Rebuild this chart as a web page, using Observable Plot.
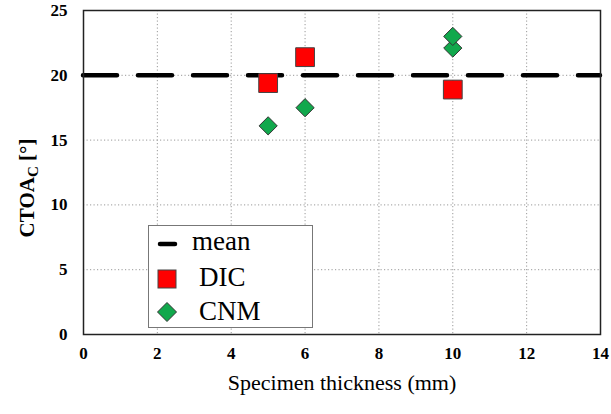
<!DOCTYPE html>
<html><head><meta charset="utf-8">
<script src="https://cdn.jsdelivr.net/npm/d3@7"></script>
<script src="https://cdn.jsdelivr.net/npm/@observablehq/plot@0.6"></script>
<style>
html,body{margin:0;padding:0;background:#fff;}
#wrap{position:relative;width:611px;height:414px;}
#legend{position:absolute;left:148px;top:225px;}
#wrap svg text{font-family:"Liberation Serif",serif !important;}
</style></head><body><div id="wrap"></div>
<script>
const thicknessDIC = [5, 6, 10];
const ctoaDIC = [19.4, 21.4, 18.9];
const thicknessCNM = [5, 6, 10, 10];
const ctoaCNM = [16.1, 17.5, 22.1, 23.0];
const meanValue = 20;
const xTicks = [0, 2, 4, 6, 8, 10, 12, 14];
const yTicks = [0, 5, 10, 15, 20, 25];
const legendLabels = ["mean", "DIC", "CNM"];

const dic = thicknessDIC.map((x, i) => ({x, y: ctoaDIC[i]}));
const cnm = thicknessCNM.map((x, i) => ({x, y: ctoaCNM[i]}));

const serif = "Liberation Serif";
const green = "#11a84c";
const red = "#ff0000";

const chart = Plot.plot({
  width: 611,
  height: 414,
  marginLeft: 83,
  marginRight: 11,
  marginTop: 10,
  marginBottom: 80,
  style: {fontFamily: serif, background: "#fff", color: "#000"},
  x: {domain: [0, 14], ticks: xTicks},
  y: {domain: [0, 25], ticks: yTicks},
  marks: [
    Plot.gridX(xTicks.slice(1, -1), {stroke: "#999", strokeOpacity: 1, strokeDasharray: "1.2,2.3", strokeWidth: 1}),
    Plot.gridY(yTicks.slice(1, -1), {stroke: "#999", strokeOpacity: 1, strokeDasharray: "1.2,2.3", strokeWidth: 1}),
    Plot.axisX({ticks: xTicks, tickSize: 0, tickPadding: 12, fontSize: 17, fontWeight: "bold", fontFamily: serif, label: null}),
    Plot.axisY({ticks: yTicks, tickSize: 0, tickPadding: 16, fontSize: 17, fontWeight: "bold", fontFamily: serif, label: null}),
    Plot.ruleY([meanValue], {stroke: "#000", strokeWidth: 4.5, strokeDasharray: "34,21", strokeLinecap: "round"}),
    Plot.dot(dic, {x: "x", y: "y", symbol: "square", r: 10.6, fill: red, stroke: "#444", strokeWidth: 1}),
    Plot.dot(cnm, {x: "x", y: "y", symbol: "diamond2", r: 8.2, fill: green, stroke: "#333", strokeWidth: 1}),
    Plot.frame({stroke: "#222", strokeWidth: 1.5}),
    Plot.text(["Specimen thickness (mm)"], {frameAnchor: "bottom", dy: 55, fontSize: 22, fontFamily: serif, fill: "#000"})
  ]
});

const svg = d3.select(chart);
svg.selectAll("text").attr("font-family", serif);

// y-axis title with subscript
const t = svg.append("text")
  .attr("transform", "translate(34,188) rotate(-90)")
  .attr("text-anchor", "middle")
  .attr("font-family", serif)
  .attr("font-weight", "bold")
  .attr("font-size", 21)
  .attr("fill", "#000");
t.append("tspan").text("CTOA");
t.append("tspan").attr("font-size", 15).attr("dy", 4).text("C");
t.append("tspan").attr("dy", -4).text(" [°]");

const wrap = document.getElementById("wrap");
wrap.appendChild(chart);

// legend
const W = 165, H = 103;
const leg = d3.create("svg").attr("id", "legend").attr("width", W).attr("height", H);
leg.append("rect").attr("x", 0.5).attr("y", 0.5).attr("width", W - 1).attr("height", H - 1)
  .attr("fill", "#fff").attr("stroke", "#777").attr("stroke-width", 1);
const baselines = [25, 61, 95];
const textX = [44, 51, 51];
leg.append("line").attr("x1", 12).attr("x2", 27).attr("y1", 19).attr("y2", 19)
  .attr("stroke", "#000").attr("stroke-width", 4.5).attr("stroke-linecap", "round");
leg.append("rect").attr("x", 10).attr("y", 45).attr("width", 18).attr("height", 18)
  .attr("fill", red).attr("stroke", "#444");
leg.append("path").attr("d", "M19,77.5 L28.5,87 L19,96.5 L9.5,87 Z")
  .attr("fill", green).attr("stroke", "#333");
legendLabels.forEach((lab, i) => {
  leg.append("text").attr("x", textX[i]).attr("y", baselines[i])
    .attr("font-family", serif).attr("font-size", 27).attr("fill", "#000").text(lab);
});
wrap.appendChild(leg.node());
</script>
</body></html>
